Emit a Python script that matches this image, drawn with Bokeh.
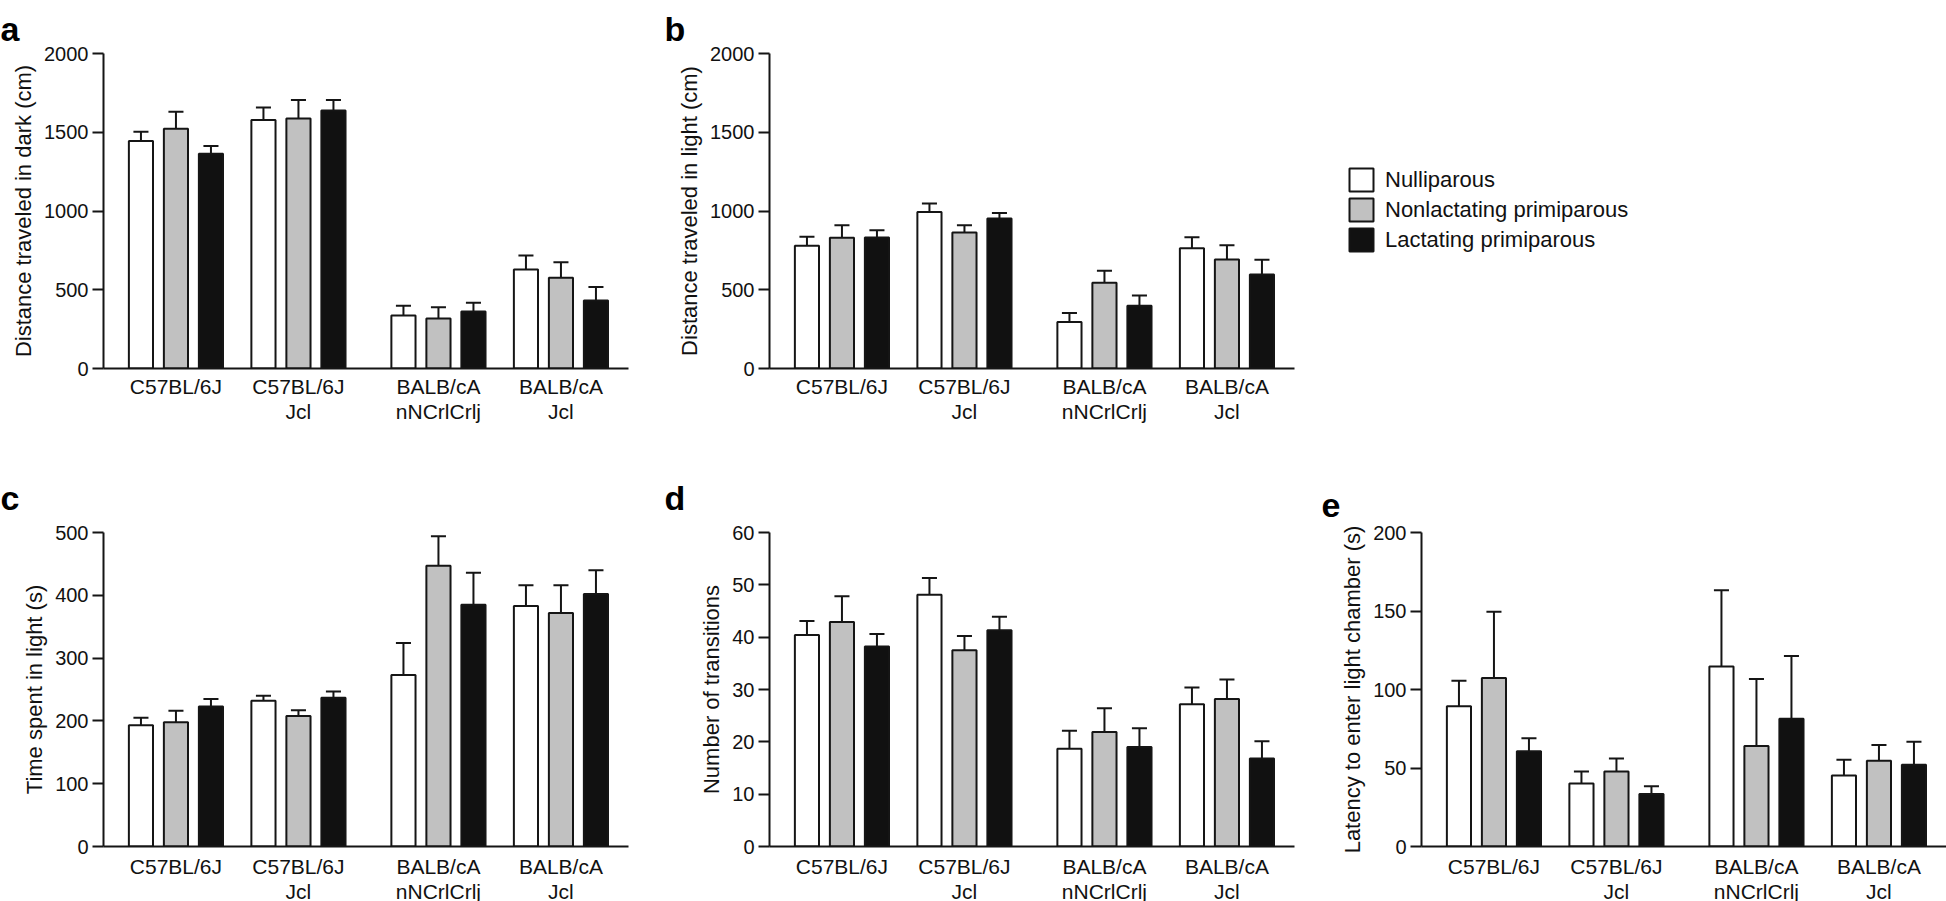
from bokeh.plotting import figure
from bokeh.models import Range1d, FixedTicker, Legend, LegendItem
from bokeh.layouts import row, column
from bokeh.embed import file_html
from bokeh.resources import INLINE

# ---------------- data ----------------
strains = ["C57BL/6J", "C57BL/6J\nJcl", "BALB/cA\nnNCrlCrlj", "BALB/cA\nJcl"]
groups = ["Nulliparous", "Nonlactating primiparous", "Lactating primiparous"]

# a: distance traveled in dark (cm)
dark_null = [1445, 1577, 337, 629]
dark_nonlact = [1522, 1587, 317, 576]
dark_lact = [1363, 1638, 362, 432]
dark_null_sem = [58, 80, 61, 88]
dark_nonlact_sem = [108, 117, 72, 99]
dark_lact_sem = [49, 66, 55, 86]
dark_ticks = [0, 500, 1000, 1500, 2000]

# b: distance traveled in light (cm)
light_null = [779, 993, 296, 764]
light_nonlact = [830, 864, 544, 692]
light_lact = [832, 952, 398, 597]
light_null_sem = [57, 55, 57, 70]
light_nonlact_sem = [80, 46, 76, 91]
light_lact_sem = [46, 36, 65, 93]
light_ticks = [0, 500, 1000, 1500, 2000]

# c: time spent in light (s)
time_null = [193, 232, 273, 383]
time_nonlact = [198, 208, 447, 372]
time_lact = [223, 237, 385, 402]
time_null_sem = [12, 8, 51, 33]
time_nonlact_sem = [18, 9, 47, 44]
time_lact_sem = [12, 10, 51, 38]
time_ticks = [0, 100, 200, 300, 400, 500]

# d: number of transitions
trans_null = [40.4, 48.1, 18.7, 27.2]
trans_nonlact = [42.9, 37.5, 21.9, 28.2]
trans_lact = [38.2, 41.3, 19.0, 16.8]
trans_null_sem = [2.7, 3.2, 3.4, 3.2]
trans_nonlact_sem = [4.9, 2.7, 4.5, 3.7]
trans_lact_sem = [2.4, 2.6, 3.6, 3.3]
trans_ticks = [0, 10, 20, 30, 40, 50, 60]

# e: latency to enter light chamber (s)
lat_null = [89.3, 40.2, 114.6, 45.3]
lat_nonlact = [107.3, 47.8, 64.0, 54.6]
lat_lact = [60.6, 33.4, 81.4, 52.1]
lat_null_sem = [16.3, 7.6, 48.6, 10.0]
lat_nonlact_sem = [42.3, 8.3, 42.7, 10.0]
lat_lact_sem = [8.3, 4.9, 40.0, 14.6]
lat_ticks = [0, 50, 100, 150, 200]

# ---------------- style ----------------
FONT = "Liberation Sans"
INK = "#151515"
FILLS = ["#ffffff", "#c1c1c1", "#111111"]
GROUP_STEP = 3.5
MID_GAP = 0.5
BAR_W = 0.69
CAP_HALF = 0.215
FRAME_W = 525
centers = [i * GROUP_STEP + (MID_GAP if i >= 2 else 0) for i in range(len(strains))]


def make_panel(letter, ylabel, means, sems, yticks, bl, br, bt, fh, bb,
               letter_dx, letter_standoff, xlabel_standoff):
    p = figure(frame_width=FRAME_W, frame_height=fh,
               min_border_left=bl, min_border_right=br, min_border_top=bt, min_border_bottom=bb,
               x_range=Range1d(-2.07, 12.93), y_range=Range1d(yticks[0], yticks[-1]),
               output_backend="svg", toolbar_location=None, tools="")
    p.outline_line_color = None
    p.grid.visible = False
    p.background_fill_color = "white"
    p.border_fill_color = "white"

    p.title.text = letter
    p.title.align = "left"
    p.title.offset = letter_dx
    p.title.standoff = letter_standoff
    p.title.text_font = FONT
    p.title.text_font_size = "34px"
    p.title.text_font_style = "bold"
    p.title.text_color = "#000000"

    for gi in range(3):
        xs = [c + (gi - 1) for c in centers]
        tops = [m + s for m, s in zip(means[gi], sems[gi])]
        p.segment(x0=xs, y0=means[gi], x1=xs, y1=tops, line_color=INK, line_width=2)
        p.segment(x0=[x - CAP_HALF for x in xs], y0=tops, x1=[x + CAP_HALF for x in xs], y1=tops,
                  line_color=INK, line_width=2)
        p.vbar(x=xs, top=means[gi], bottom=0, width=BAR_W, fill_color=FILLS[gi],
               line_color=INK, line_width=2)

    xa = p.xaxis[0]
    xa.ticker = FixedTicker(ticks=centers)
    xa.major_label_overrides = {float(c): s for c, s in zip(centers, strains)}
    xa.major_tick_line_color = None
    xa.minor_tick_line_color = None
    xa.major_label_standoff = xlabel_standoff
    xa.axis_line_width = 2
    xa.axis_line_color = INK
    xa.major_label_text_font = FONT
    xa.major_label_text_font_size = "21px"
    xa.major_label_text_color = "#111111"
    xa.major_label_text_line_height = 1.1

    ya = p.yaxis[0]
    ya.ticker = FixedTicker(ticks=yticks)
    ya.major_tick_out = 11
    ya.major_tick_in = 0
    ya.major_tick_line_width = 2
    ya.major_tick_line_color = INK
    ya.minor_tick_line_color = None
    ya.axis_line_width = 2
    ya.axis_line_color = INK
    ya.major_label_standoff = 4
    ya.major_label_text_font = FONT
    ya.major_label_text_font_size = "20px"
    ya.major_label_text_color = "#111111"
    ya.axis_label = ylabel
    ya.axis_label_text_font = FONT
    ya.axis_label_text_font_size = "22px"
    ya.axis_label_text_font_style = "normal"
    ya.axis_label_text_color = "#111111"
    ya.axis_label_standoff = 5
    return p


TOP1, FH1, BOT1 = 53, 315, 90
TOP2, FH2, BOT2 = 74, 314, 55
LETTER_GAP1, LETTER_GAP2 = 11, 32

pa = make_panel("a", "Distance traveled in dark (cm)",
                [dark_null, dark_nonlact, dark_lact],
                [dark_null_sem, dark_nonlact_sem, dark_lact_sem],
                dark_ticks, 103, 20, TOP1, FH1, BOT1, -103, LETTER_GAP1, 0)
pb = make_panel("b", "Distance traveled in light (cm)",
                [light_null, light_nonlact, light_lact],
                [light_null_sem, light_nonlact_sem, light_lact_sem],
                light_ticks, 121, 20, TOP1, FH1, BOT1, -105, LETTER_GAP1, 0)
pc = make_panel("c", "Time spent in light (s)",
                [time_null, time_nonlact, time_lact],
                [time_null_sem, time_nonlact_sem, time_lact_sem],
                time_ticks, 103, 20, TOP2, FH2, BOT2, -103, LETTER_GAP2, 2)
pd = make_panel("d", "Number of transitions",
                [trans_null, trans_nonlact, trans_lact],
                [trans_null_sem, trans_nonlact_sem, trans_lact_sem],
                trans_ticks, 121, 20, TOP2, FH2, BOT2, -105, LETTER_GAP2, 2)
pe = make_panel("e", "Latency to enter light chamber (s)",
                [lat_null, lat_nonlact, lat_lact],
                [lat_null_sem, lat_nonlact_sem, lat_lact_sem],
                lat_ticks, 107, 0, TOP2, FH2, BOT2, -100, LETTER_GAP2, 2)

# legend panel (its swatches come from hidden proxy bars of the panel-b series)
lf = figure(frame_width=600, frame_height=FH1, min_border_left=32, min_border_right=0,
            min_border_top=TOP1, min_border_bottom=BOT1,
            x_range=Range1d(0, 1), y_range=Range1d(0, 1),
            x_axis_location=None, y_axis_location=None,
            output_backend="svg", toolbar_location=None, tools="")
lf.outline_line_color = None
lf.grid.visible = False
items = []
for g, c, vals in zip(groups, FILLS, [light_null, light_nonlact, light_lact]):
    r = lf.vbar(x=centers, top=vals, width=BAR_W, fill_color=c, line_color=INK, line_width=2)
    r.visible = False
    items.append(LegendItem(label=g, renderers=[r]))
legend = Legend(items=items, location=(0, 114), margin=0, padding=0, spacing=1,
                glyph_width=30, glyph_height=29, label_standoff=9,
                label_text_font=FONT, label_text_font_size="22px", label_text_color="#111111",
                border_line_color=None, background_fill_alpha=0,
                inactive_fill_alpha=0, click_policy="none")
lf.add_layout(legend)

layout = column(row(pa, pb, lf, spacing=0), row(pc, pd, pe, spacing=0), spacing=0)
open("out.html", "w").write(file_html(layout, INLINE))
